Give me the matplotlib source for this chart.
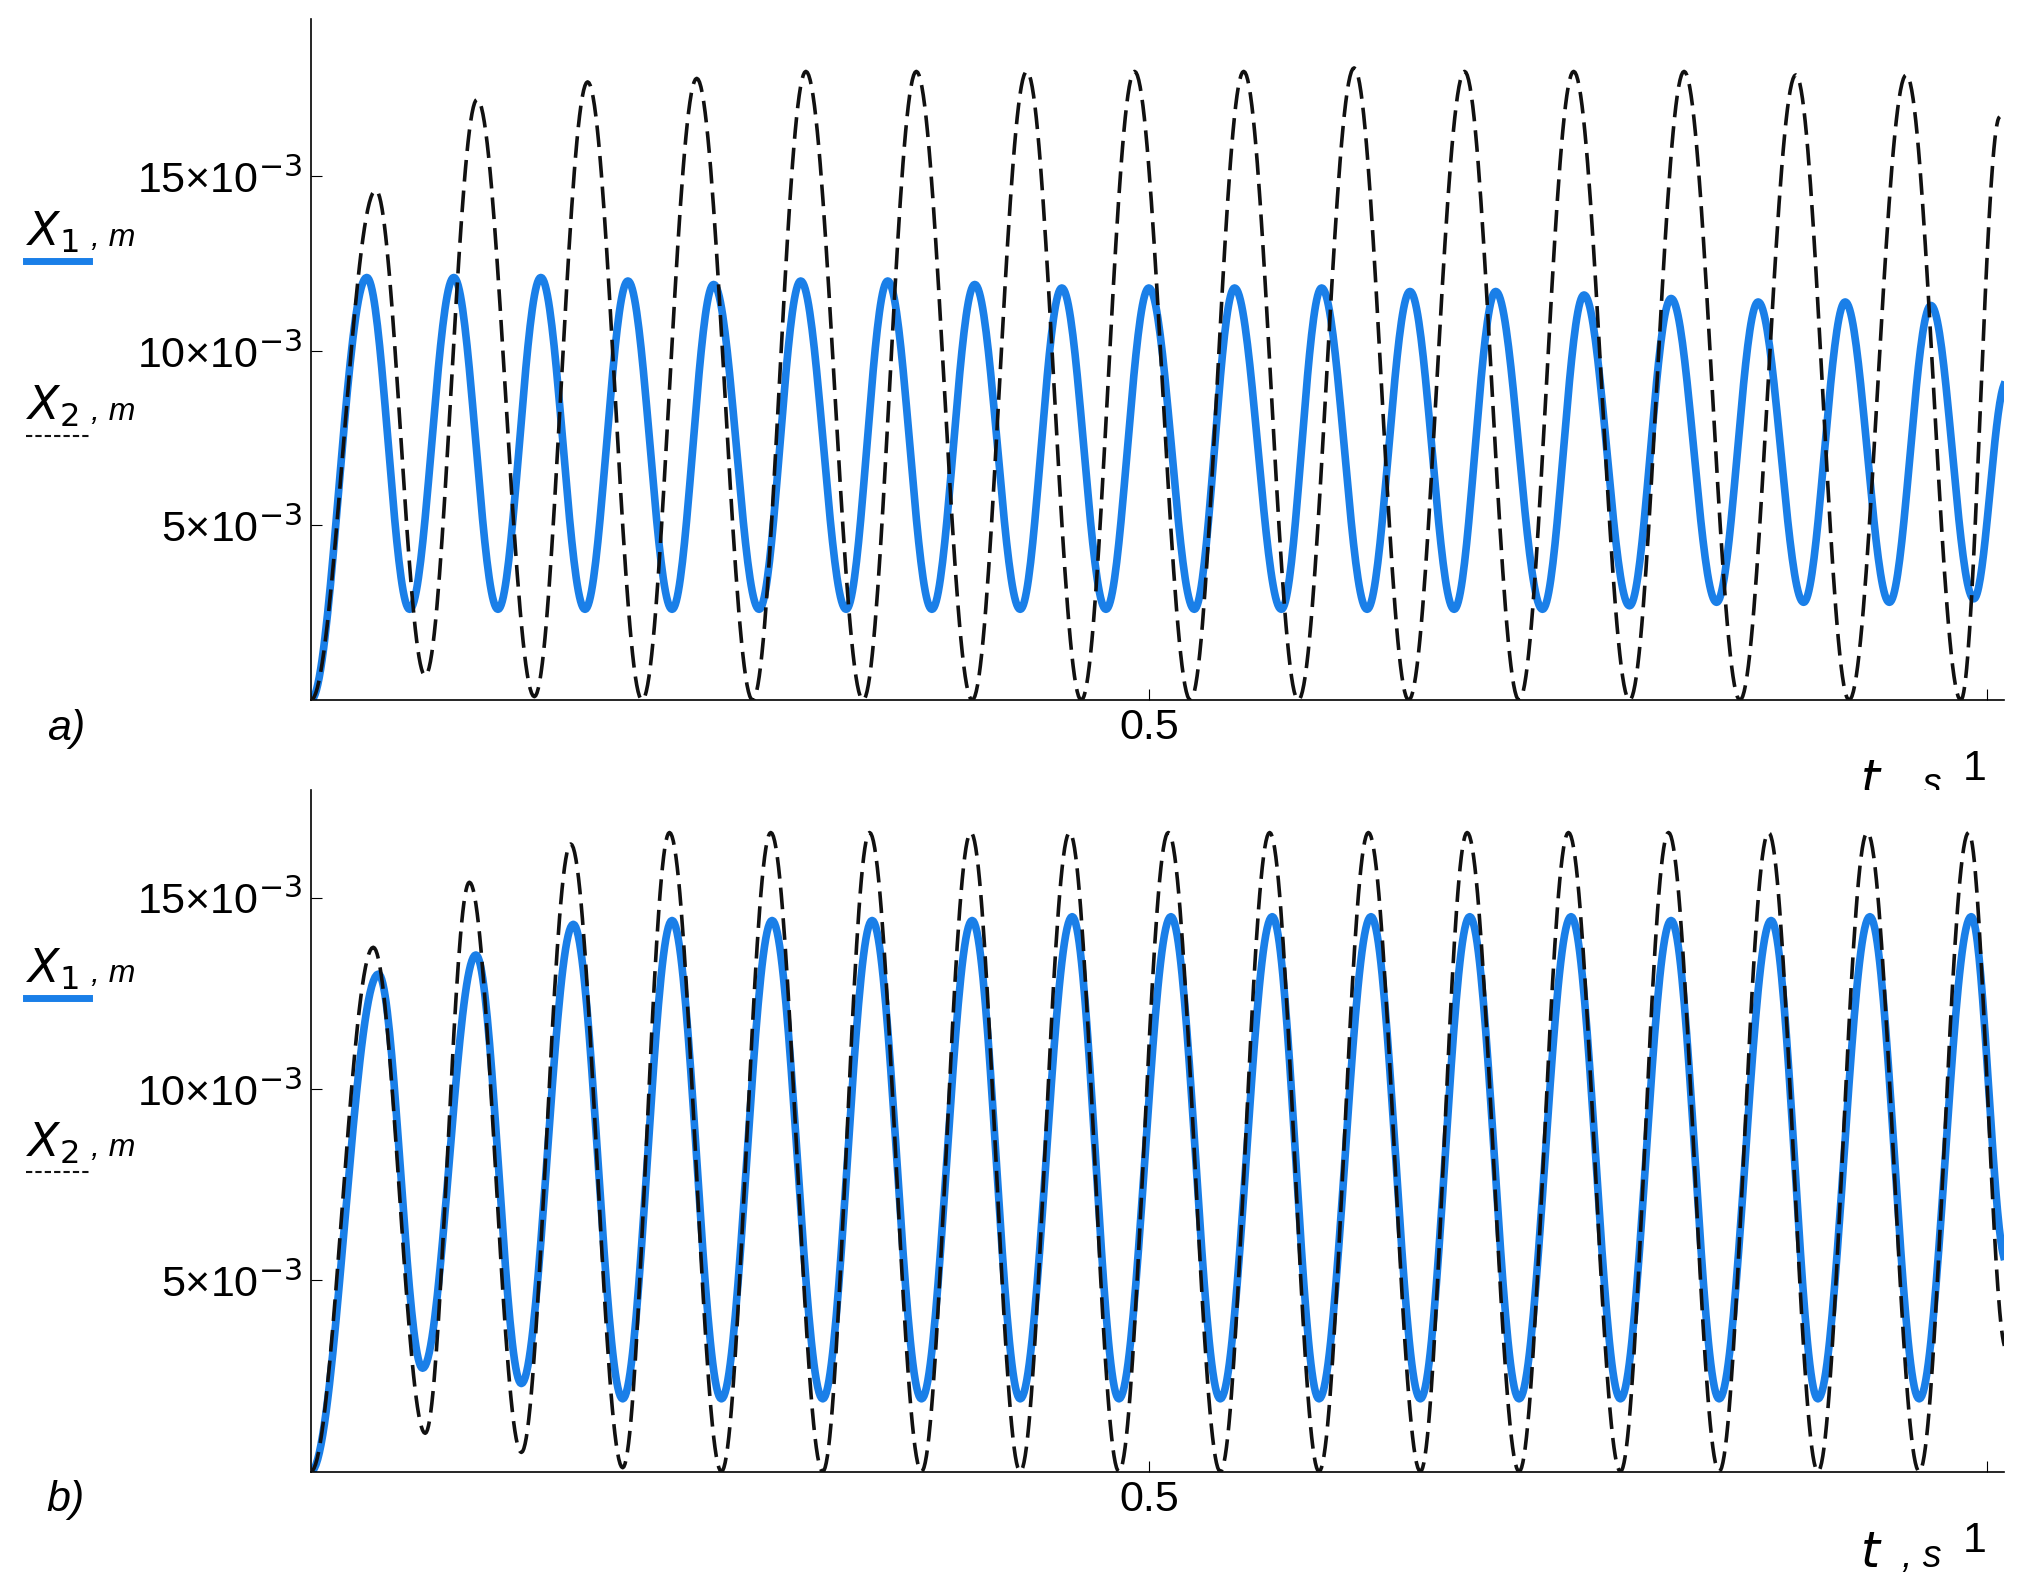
import numpy as np
import matplotlib
matplotlib.use("Agg")
import matplotlib.pyplot as plt

plt.rcParams['font.family'] = ['Liberation Sans', 'DejaVu Sans']

# ---- data (pixel x of extrema converted to time; values in 1e-3 m) ----
def px2t(xs):
    return [(x - 240) / 1290 for x in xs]

a_black_peak_t = px2t([290, 368, 453, 537, 621, 706, 791, 874, 958, 1043, 1128, 1212, 1297, 1383, 1468])
a_black_peak_v = [14.6, 17.2, 17.7, 17.8, 18.0, 18.0, 18.0, 18.0, 18.0, 18.1, 18.0, 18.0, 18.0, 17.9, 17.9]
a_black_trough_t = px2t([328, 412, 495, 580, 665, 749, 833, 917, 1000, 1085, 1170, 1255, 1340, 1424, 1510])
a_black_trough_v = [0.7, 0.1, 0.0, 0.0, 0.0, 0.0, 0.0, 0.0, 0.0, 0.0, 0.0, 0.0, 0.0, 0.0, 0.0]
a_black_end = (px2t([1540])[0], 16.7)

a_blue_peak_t = px2t([283, 350, 417, 484, 550, 617, 684, 751, 818, 885, 951, 1018, 1086, 1152, 1220, 1287, 1354, 1421, 1487])
a_blue_peak_v = [12.1, 12.1, 12.1, 12.0, 11.9, 12.0, 12.0, 11.9, 11.8, 11.8, 11.8, 11.8, 11.7, 11.7, 11.6, 11.5, 11.4, 11.4, 11.3]
a_blue_trough_t = px2t([316, 384, 451, 518, 585, 652, 718, 786, 852, 920, 987, 1053, 1120, 1188, 1255, 1322, 1389, 1455, 1520])
a_blue_trough_v = [2.6, 2.6, 2.6, 2.6, 2.6, 2.6, 2.6, 2.6, 2.6, 2.6, 2.6, 2.6, 2.6, 2.6, 2.7, 2.8, 2.8, 2.8, 2.9]
a_blue_end = (px2t([1545])[0], 9.1)

b_black_peak_t = px2t([288, 362, 440, 516, 594, 670, 748, 824, 900, 978, 1054, 1130, 1208, 1285, 1362, 1438, 1516])
b_black_peak_v = [13.7, 15.4, 16.4, 16.7, 16.7, 16.7, 16.7, 16.7, 16.7, 16.7, 16.7, 16.7, 16.7, 16.7, 16.7, 16.7, 16.7]
b_black_trough_t = px2t([328, 402, 480, 556, 634, 710, 786, 862, 940, 1016, 1094, 1170, 1248, 1324, 1400, 1478])
b_black_trough_v = [1.0, 0.5, 0.1, 0.0, 0.0, 0.0, 0.0, 0.0, 0.0, 0.0, 0.0, 0.0, 0.0, 0.0, 0.0, 0.0]
b_black_end = (px2t([1545])[0], 3.2)

b_blue_peak_t = px2t([292, 367, 442, 518, 595, 672, 749, 826, 902, 980, 1056, 1132, 1210, 1287, 1364, 1440, 1518])
b_blue_peak_v = [13.0, 13.5, 14.3, 14.4, 14.4, 14.4, 14.4, 14.5, 14.5, 14.5, 14.5, 14.5, 14.5, 14.4, 14.4, 14.5, 14.5]
b_blue_trough_t = px2t([326, 402, 480, 556, 634, 710, 786, 862, 940, 1016, 1094, 1170, 1248, 1324, 1400, 1478])
b_blue_trough_v = [2.7, 2.3, 1.9, 1.9, 1.9, 1.9, 1.9, 1.9, 1.9, 1.9, 1.9, 1.9, 1.9, 1.9, 1.9, 1.9]
b_blue_end = (px2t([1545])[0], 5.5)

yticks = [5, 10, 15]
ytick_labels = [r'5×10$^{-3}$', r'10×10$^{-3}$', r'15×10$^{-3}$']


def smooth_through(pt, pv, tt, tv, end):
    nodes = sorted([(0.0, 0.0)] + list(zip(pt, pv)) + list(zip(tt, tv)) + [end])
    ts, vs = [], []
    for (t0, v0), (t1, v1) in zip(nodes[:-1], nodes[1:]):
        s = np.linspace(0, 1, 40, endpoint=False)
        ts.append(t0 + (t1 - t0) * s)
        vs.append(v0 + (v1 - v0) * (1 - np.cos(np.pi * s)) / 2)
    ts.append([nodes[-1][0]]); vs.append([nodes[-1][1]])
    return np.concatenate(ts), np.concatenate(vs) * 1e-3


fig = plt.figure(figsize=(20.32, 15.84), dpi=100)
blue = '#1a7fe8'
FS = 31

panels = [
    (fig.add_axes([0.153, 0.558, 0.833, 0.430]),
     (a_black_peak_t, a_black_peak_v, a_black_trough_t, a_black_trough_v, a_black_end),
     (a_blue_peak_t, a_blue_peak_v, a_blue_trough_t, a_blue_trough_v, a_blue_end),
     19.5e-3, 'a)', 0.558),
    (fig.add_axes([0.153, 0.071, 0.833, 0.430]),
     (b_black_peak_t, b_black_peak_v, b_black_trough_t, b_black_trough_v, b_black_end),
     (b_blue_peak_t, b_blue_peak_v, b_blue_trough_t, b_blue_trough_v, b_blue_end),
     17.8e-3, 'b)', 0.071),
]

for ax, blk, blu, ytop, lab, bot in panels:
    tb, vb = smooth_through(*blu)
    tk, vk = smooth_through(*blk)
    ax.plot(tb, vb, color=blue, lw=5.5, zorder=2)
    ax.plot(tk, vk, color='#111111', lw=2.6, ls=(0, (6, 2.5)), zorder=3)
    ax.set_xlim(0, 1.01)
    ax.set_ylim(0, ytop)
    for s in ['top', 'right']:
        ax.spines[s].set_visible(False)
    ax.spines['left'].set_linewidth(1.2)
    ax.spines['bottom'].set_linewidth(1.2)
    ax.set_yticks([v * 1e-3 for v in yticks])
    ax.set_yticklabels(ytick_labels, fontsize=FS)
    ax.set_xticks([0.5, 1.0])
    ax.set_xticklabels(['0.5', '1'], fontsize=FS)
    ax.tick_params(axis='both', direction='in', length=8, pad=6)
    ax.xaxis.get_majorticklabels()[1].set_horizontalalignment('right')
    ax.xaxis.get_majorticklabels()[1].set_y(-0.06)
    ax.text(0.915, -0.14, r'$t$', fontsize=FS + 4, transform=ax.transAxes, style='italic')
    ax.text(0.94, -0.14, ', s', fontsize=FS - 4, transform=ax.transAxes, style='italic')
    fig.text(0.023, bot - 0.025, lab, fontsize=FS, style='italic')

# y-axis legend-like labels
for ybase in [(0.845, 0.735), (0.380, 0.270)]:
    y1, y2 = ybase
    fig.text(0.013, y1, r'$X_1$', fontsize=FS + 2)
    fig.text(0.045, y1, ', m', fontsize=FS - 8, style='italic')
    fig.add_artist(plt.Line2D([0.013, 0.044], [y1 - 0.01, y1 - 0.01], color=blue, lw=5, transform=fig.transFigure))
    fig.text(0.013, y2, r'$X_2$', fontsize=FS + 2)
    fig.text(0.045, y2, ', m', fontsize=FS - 8, style='italic')
    fig.add_artist(plt.Line2D([0.013, 0.044], [y2 - 0.01, y2 - 0.01], color='#111111', lw=1.5,
                              ls=(0, (3, 1.5)), transform=fig.transFigure))

fig.savefig('out.png', dpi=100)
